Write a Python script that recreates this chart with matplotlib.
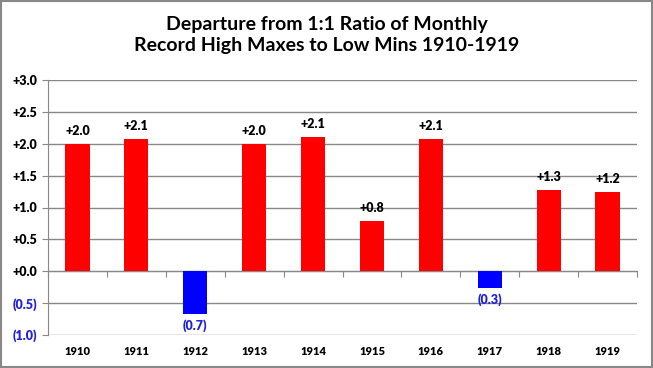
import matplotlib
matplotlib.use('Agg')
import matplotlib.pyplot as plt
import numpy as np

plt.rcParams.update({
    'font.family': ['Lato', 'DejaVu Sans'],
    'font.weight': 'bold',
    'font.size': 9,
})

years = ['1910', '1911', '1912', '1913', '1914', '1915', '1916', '1917', '1918', '1919']
departure = [2.0, 2.07, -0.67, 2.0, 2.1, 0.79, 2.07, -0.26, 1.28, 1.25]
y_ticks = [-1.0, -0.5, 0.0, 0.5, 1.0, 1.5, 2.0, 2.5, 3.0]

def fmt(v):
    return f'({abs(v):.1f})' if v < 0 else f'+{v:.1f}'

fig = plt.figure(figsize=(6.53, 3.68), dpi=100)
fig.patches.append(plt.Rectangle((0.001, 0.002), 0.997, 0.995, transform=fig.transFigure,
                                 fill=False, edgecolor='#888888', linewidth=1.5))
ax = fig.add_axes([48/653, 33/368, 589/653, 255/368])

x = np.arange(len(years))
colors = ['#ff0000' if v >= 0 else '#0000ff' for v in departure]
ax.bar(x, departure, width=0.41, color=colors, zorder=3)

for xi, v in zip(x, departure):
    if v >= 0:
        ax.annotate(fmt(v), (xi, v), xytext=(0, 5), textcoords='offset points',
                    ha='center', va='bottom', fontsize=9, fontweight='heavy', color='black')
    else:
        ax.annotate(fmt(v), (xi, v), xytext=(0, -4), textcoords='offset points',
                    ha='center', va='top', fontsize=9, fontweight='heavy', color='#2020dd')

ax.set_xlim(-0.5, len(years) - 0.5)
ax.set_ylim(-1.0, 3.0)
ax.set_yticks(y_ticks)
ax.set_yticklabels([fmt(v) for v in y_ticks], fontweight='heavy', fontsize=9)
for lbl, v in zip(ax.get_yticklabels(), y_ticks):
    lbl.set_color('#2020dd' if v < 0 else 'black')
ax.tick_params(axis='y', length=4, color='#888888', pad=4)
ax.grid(axis='y', color='#888888', linewidth=1.0, zorder=0)

ax.set_xticks(x)
ax.set_xticklabels(years, fontsize=8, fontweight='heavy')
ax.tick_params(axis='x', length=0, pad=8)

for s in ['top', 'right', 'bottom']:
    ax.spines[s].set_visible(False)
ax.spines['left'].set_color('#888888')

# category axis crossing at zero, with tick marks between categories
sec = ax.secondary_xaxis(0.25)
sec.set_xticks(np.arange(len(years) + 1) - 0.5)
sec.set_xticklabels([])
sec.tick_params(length=4, color='#888888', direction='out')
sec.spines['bottom'].set_color('#888888')

fig.text(0.5, 0.905, 'Departure from 1:1 Ratio of Monthly\nRecord High Maxes to Low Mins 1910-1919',
         ha='center', va='center', fontsize=14, fontweight='bold', linespacing=1.3)

fig.savefig('out.png', dpi=100)
